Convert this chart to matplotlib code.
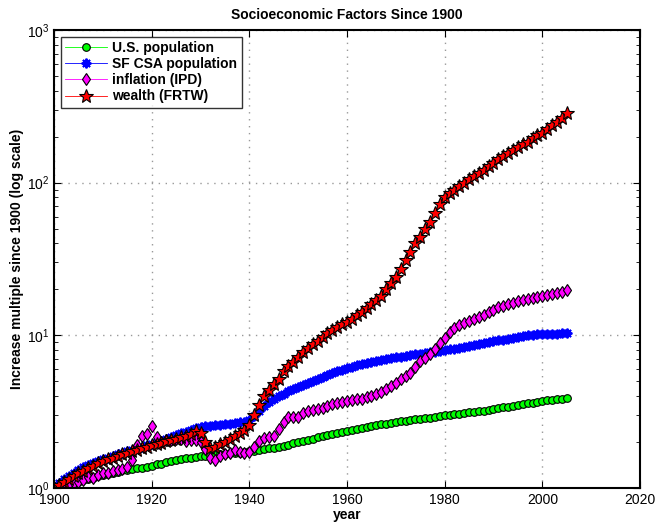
import matplotlib
matplotlib.use("Agg")
import matplotlib.pyplot as plt
import matplotlib.ticker as ticker

plt.rcParams["font.family"] = ["Liberation Sans", "DejaVu Sans"]

# ── data (multiples of 1900 level) ──────────────────────────────────────────

years = list(range(1900, 2006))

us_pop = [
    1.000, 1.020, 1.041, 1.059, 1.080, 1.101, 1.124, 1.143, 1.166, 1.189,
    1.214, 1.234, 1.252, 1.277, 1.302, 1.321, 1.340, 1.357, 1.356, 1.373,
    1.399, 1.426, 1.445, 1.470, 1.499, 1.522, 1.543, 1.564, 1.583, 1.601,
    1.618, 1.629, 1.640, 1.650, 1.661, 1.673, 1.683, 1.693, 1.706, 1.720,
    1.736, 1.753, 1.773, 1.796, 1.819, 1.838, 1.858, 1.894, 1.926, 1.961,
    2.001, 2.035, 2.071, 2.105, 2.142, 2.180, 2.219, 2.260, 2.298, 2.336,
    2.375, 2.414, 2.451, 2.486, 2.522, 2.553, 2.583, 2.611, 2.637, 2.664,
    2.695, 2.729, 2.758, 2.785, 2.811, 2.838, 2.865, 2.894, 2.925, 2.958,
    2.986, 3.016, 3.045, 3.072, 3.099, 3.126, 3.155, 3.184, 3.213, 3.243,
    3.280, 3.325, 3.371, 3.415, 3.457, 3.499, 3.540, 3.582, 3.625, 3.666,
    3.708, 3.745, 3.779, 3.812, 3.848, 3.883,
]

sf_pop = [
    1.00, 1.07, 1.14, 1.20, 1.26, 1.32, 1.37, 1.42, 1.46, 1.50,
    1.54, 1.58, 1.62, 1.66, 1.70, 1.74, 1.78, 1.82, 1.86, 1.90,
    1.94, 1.99, 2.04, 2.10, 2.16, 2.22, 2.28, 2.34, 2.40, 2.46,
    2.50, 2.53, 2.56, 2.58, 2.60, 2.62, 2.64, 2.66, 2.69, 2.72,
    2.78, 2.95, 3.20, 3.45, 3.65, 3.85, 4.00, 4.15, 4.30, 4.45,
    4.60, 4.75, 4.90, 5.05, 5.20, 5.35, 5.50, 5.65, 5.80, 5.95,
    6.10, 6.22, 6.35, 6.48, 6.60, 6.72, 6.83, 6.93, 7.02, 7.10,
    7.18, 7.26, 7.34, 7.42, 7.50, 7.58, 7.66, 7.74, 7.82, 7.90,
    7.98, 8.08, 8.18, 8.29, 8.40, 8.52, 8.64, 8.76, 8.88, 9.00,
    9.12, 9.25, 9.38, 9.50, 9.62, 9.74, 9.86, 9.98, 10.08, 10.16,
    10.22, 10.25, 10.26, 10.27, 10.28, 10.30,
]

inflation = [
    1.00, 1.01, 1.04, 1.06, 1.07, 1.10, 1.13, 1.18, 1.17, 1.22,
    1.26, 1.25, 1.30, 1.31, 1.33, 1.37, 1.52, 1.90, 2.20, 2.25,
    2.55, 2.15, 2.00, 2.05, 2.05, 2.10, 2.08, 2.03, 2.05, 2.06,
    2.00, 1.80, 1.58, 1.53, 1.63, 1.67, 1.70, 1.76, 1.72, 1.70,
    1.72, 1.86, 2.02, 2.12, 2.15, 2.20, 2.45, 2.72, 2.90, 2.90,
    2.93, 3.12, 3.18, 3.23, 3.27, 3.33, 3.43, 3.55, 3.62, 3.66,
    3.71, 3.75, 3.80, 3.85, 3.92, 4.00, 4.12, 4.25, 4.43, 4.65,
    4.90, 5.15, 5.38, 5.68, 6.20, 6.78, 7.15, 7.60, 8.15, 8.85,
    9.65, 10.55, 11.20, 11.65, 12.10, 12.50, 12.80, 13.20, 13.65, 14.20,
    14.75, 15.30, 15.65, 16.05, 16.40, 16.75, 17.10, 17.40, 17.60, 17.85,
    18.00, 18.30, 18.60, 18.90, 19.30, 19.70,
]

wealth = [
    1.00, 1.05, 1.10, 1.15, 1.20, 1.25, 1.30, 1.35, 1.40, 1.45,
    1.50, 1.54, 1.58, 1.62, 1.66, 1.70, 1.74, 1.78, 1.82, 1.86,
    1.90, 1.94, 1.98, 2.02, 2.06, 2.10, 2.15, 2.20, 2.26, 2.35,
    2.30, 2.00, 1.82, 1.85, 1.93, 2.00, 2.10, 2.20, 2.30, 2.40,
    2.60, 3.00, 3.50, 4.00, 4.40, 4.80, 5.20, 5.80, 6.30, 6.70,
    7.20, 7.80, 8.30, 8.80, 9.20, 9.70, 10.3, 10.9, 11.4, 11.8,
    12.2, 12.8, 13.6, 14.3, 15.2, 16.0, 17.0, 18.2, 20.0, 22.0,
    24.0, 27.0, 31.0, 35.0, 40.0, 44.0, 50.0, 55.0, 63.0, 72.0,
    80.0, 86.0, 90.0, 95.0, 100.0, 105.0, 110.0, 115.0, 121.0, 128.0,
    135.0, 142.0, 149.0, 156.0, 163.0, 170.0, 178.0, 186.0, 195.0, 204.0,
    213.0, 225.0, 237.0, 250.0, 265.0, 285.0,
]

x_ticks = [1900, 1920, 1940, 1960, 1980, 2000, 2020]

# ── plot ─────────────────────────────────────────────────────────────────────

fig = plt.figure(figsize=(6.67, 5.23), dpi=100)
ax = fig.add_axes([0.081, 0.067, 0.8785, 0.8756])

ax.semilogy(years, us_pop, color=(0, 1, 0), linewidth=0.6,
            marker="o", markersize=5.5, markerfacecolor=(0, 1, 0),
            markeredgecolor="black", markeredgewidth=0.8,
            label="U.S. population")
ax.semilogy(years, sf_pop, color=(0, 0, 1), linewidth=0.6,
            marker=(8, 2, 0), markersize=7, markeredgecolor=(0, 0, 1),
            markeredgewidth=1.4, label="SF CSA population")
ax.semilogy(years, inflation, color=(1, 0, 1), linewidth=0.6,
            marker="d", markersize=6.5, markerfacecolor=(1, 0, 1),
            markeredgecolor="black", markeredgewidth=0.8,
            label="inflation (IPD)")
ax.semilogy(years, wealth, color=(1, 0, 0), linewidth=0.6,
            marker="*", markersize=10, markerfacecolor=(1, 0, 0),
            markeredgecolor="black", markeredgewidth=0.8,
            label="wealth (FRTW)")

ax.set_xlim(1900, 2020)
ax.set_ylim(1, 1000)
ax.set_xticks(x_ticks)
ax.yaxis.set_minor_formatter(ticker.NullFormatter())

ax.tick_params(which="both", direction="in", top=True, right=True,
               labelsize=10)
ax.tick_params(which="major", length=5, width=0.8)
ax.tick_params(which="minor", length=3, width=0.6)
for sp in ax.spines.values():
    sp.set_linewidth(1.5)

ax.grid(True, which="major", linestyle=(0, (1, 4)), color="#999999",
        linewidth=1.0)

ax.set_title("Socioeconomic Factors Since 1900", fontsize=10,
             fontweight="bold", pad=8)
ax.set_xlabel("year", fontsize=10, fontweight="bold", labelpad=1)
ax.set_ylabel("Increase multiple since 1900 (log scale)", fontsize=10,
              fontweight="bold", labelpad=2)

leg = ax.legend(loc="upper left", fontsize=10, frameon=True, fancybox=False,
                edgecolor="black", borderpad=0.3, labelspacing=0.15,
                handlelength=3.0, handletextpad=0.4,
                prop={"weight": "bold", "size": 10})
leg.get_frame().set_linewidth(1.0)

fig.savefig("out.png", dpi=100)
